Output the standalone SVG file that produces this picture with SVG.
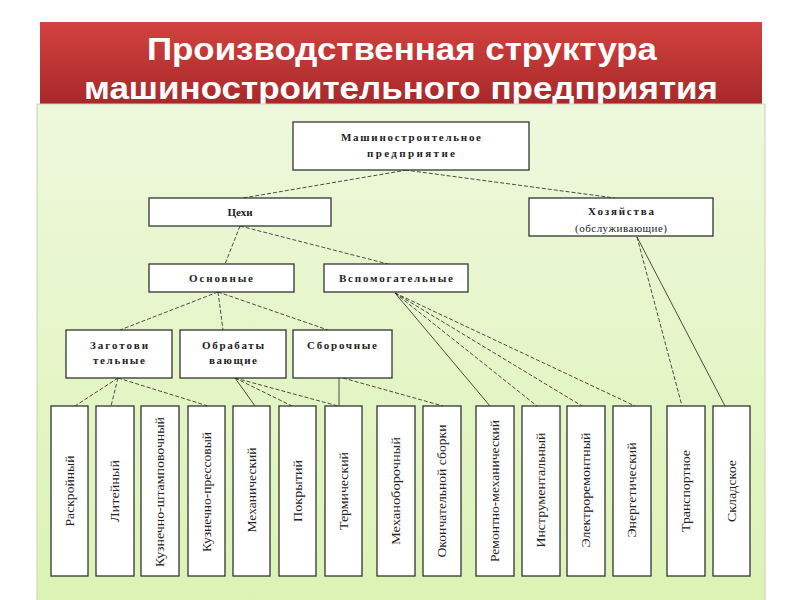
<svg xmlns="http://www.w3.org/2000/svg" width="800" height="600" viewBox="0 0 800 600">
<defs>
<linearGradient id="red" x1="0" y1="0" x2="0" y2="1">
<stop offset="0" stop-color="#d2423f"/>
<stop offset="1" stop-color="#a8282a"/>
</linearGradient>
<linearGradient id="green" x1="0" y1="0" x2="0" y2="1">
<stop offset="0" stop-color="#eef8dc"/>
<stop offset="1" stop-color="#dcf3b4"/>
</linearGradient>
<style>
.box{fill:#fff;stroke:#333;stroke-width:1.3}
.t{font-family:"Liberation Serif","DejaVu Serif",serif;font-weight:bold;font-size:11px;fill:#222;text-anchor:middle}
.n{font-weight:normal}
.v{font-family:"Liberation Serif","DejaVu Serif",serif;font-size:12px;fill:#222;text-anchor:middle}
.d{stroke:#222;stroke-width:0.8;stroke-dasharray:4 2;fill:none}
.s{stroke:#222;stroke-width:0.8;fill:none}
.title{font-family:"Liberation Sans",Arial,sans-serif;font-weight:bold;font-size:32px;fill:#fff;text-anchor:middle}
</style>
</defs>
<rect width="800" height="600" fill="#fff"/>
<g id="banner">
<rect x="40" y="22" width="722" height="82" fill="url(#red)"/>
<text class="title" x="402" y="60" textLength="510" lengthAdjust="spacingAndGlyphs">Производственная структура</text>
<text class="title" x="401" y="99" textLength="634" lengthAdjust="spacingAndGlyphs">машиностроительного предприятия</text>
</g>
<rect x="37" y="104" width="728" height="500" fill="url(#green)" stroke="#c8d2b8" stroke-width="1"/>
<g id="connectors">
<line class="d" x1="407" y1="170" x2="243" y2="198"/>
<line class="d" x1="405" y1="170" x2="615" y2="198"/>
<line class="d" x1="240" y1="226" x2="225" y2="264"/>
<line class="d" x1="240" y1="226" x2="388" y2="264"/>
<line class="d" x1="218" y1="292" x2="120" y2="330"/>
<line class="d" x1="218" y1="292" x2="223" y2="330"/>
<line class="d" x1="218" y1="292" x2="328" y2="330"/>
<line class="d" x1="118" y1="378" x2="75" y2="406"/>
<line class="d" x1="118" y1="378" x2="111" y2="406"/>
<line class="d" x1="118" y1="378" x2="208" y2="406"/>
<line class="s" x1="235" y1="378" x2="255" y2="406"/>
<line class="d" x1="235" y1="378" x2="292" y2="406"/>
<line class="d" x1="235" y1="378" x2="338" y2="406"/>
<line class="s" x1="339" y1="378" x2="339" y2="406"/>
<line class="d" x1="343" y1="378" x2="443" y2="406"/>
<line class="s" x1="395" y1="293" x2="490" y2="406"/>
<line class="d" x1="395" y1="293" x2="537" y2="406"/>
<line class="d" x1="395" y1="293" x2="582" y2="406"/>
<line class="d" x1="395" y1="293" x2="635" y2="406"/>
<line class="d" x1="637" y1="237" x2="682" y2="406"/>
<line class="s" x1="637" y1="237" x2="725" y2="406"/>
</g>
<g id="n-enterprise">
<rect class="box" x="293" y="122" width="236" height="48"/>
<text class="t" x="411" y="141" textLength="140" lengthAdjust="spacing">Машиностроительное</text>
<text class="t" x="411" y="157" textLength="88" lengthAdjust="spacing">предприятие</text>
</g>
<g id="n-cehi">
<rect class="box" x="149" y="198" width="182" height="28"/>
<text class="t" x="240" y="216">Цехи</text>
</g>
<g id="n-hoz">
<rect class="box" x="529" y="198" width="184" height="38"/>
<text class="t" x="621" y="215" textLength="66" lengthAdjust="spacing">Хозяйства</text>
<text class="t n" x="621" y="232" textLength="92" lengthAdjust="spacing">(обслуживающие)</text>
</g>
<g id="n-osn">
<rect class="box" x="149" y="264" width="145" height="28"/>
<text class="t" x="221" y="282" textLength="64" lengthAdjust="spacing">Основные</text>
</g>
<g id="n-vsp">
<rect class="box" x="324" y="264" width="144" height="28"/>
<text class="t" x="396" y="282" textLength="114" lengthAdjust="spacing">Вспомогательные</text>
</g>
<g id="n-zag">
<rect class="box" x="66" y="330" width="106" height="48"/>
<text class="t" x="119" y="349" textLength="58" lengthAdjust="spacing">Заготови</text>
<text class="t" x="119" y="364" textLength="52" lengthAdjust="spacing">тельные</text>
</g>
<g id="n-obr">
<rect class="box" x="180" y="330" width="106" height="48"/>
<text class="t" x="233" y="349" textLength="62" lengthAdjust="spacing">Обрабаты</text>
<text class="t" x="233" y="364" textLength="48" lengthAdjust="spacing">вающие</text>
</g>
<g id="n-sbor">
<rect class="box" x="293" y="330" width="99" height="48"/>
<text class="t" x="342" y="349" textLength="70" lengthAdjust="spacing">Сборочные</text>
</g>
<g id="n-b1"><rect class="box" x="51" y="406" width="37" height="170"/><text class="v" transform="translate(73.5,491) rotate(-90)" textLength="71" lengthAdjust="spacingAndGlyphs">Раскройный</text></g>
<g id="n-b2"><rect class="box" x="96" y="406" width="38" height="170"/><text class="v" transform="translate(119,491) rotate(-90)" textLength="62" lengthAdjust="spacingAndGlyphs">Литейный</text></g>
<g id="n-b3"><rect class="box" x="141" y="406" width="38" height="170"/><text class="v" transform="translate(164,492) rotate(-90)" textLength="150" lengthAdjust="spacingAndGlyphs">Кузнечно-штамповочный</text></g>
<g id="n-b4"><rect class="box" x="188" y="406" width="37" height="170"/><text class="v" transform="translate(210.5,492) rotate(-90)" textLength="120" lengthAdjust="spacingAndGlyphs">Кузнечно-прессовый</text></g>
<g id="n-b5"><rect class="box" x="233" y="406" width="37" height="170"/><text class="v" transform="translate(255.5,490) rotate(-90)" textLength="85" lengthAdjust="spacingAndGlyphs">Механический</text></g>
<g id="n-b6"><rect class="box" x="279" y="406" width="37" height="170"/><text class="v" transform="translate(301.5,491) rotate(-90)" textLength="62" lengthAdjust="spacingAndGlyphs">Покрытий</text></g>
<g id="n-b7"><rect class="box" x="325" y="406" width="37" height="170"/><text class="v" transform="translate(347.5,491) rotate(-90)" textLength="78" lengthAdjust="spacingAndGlyphs">Термический</text></g>
<g id="n-b8"><rect class="box" x="377" y="406" width="38" height="170"/><text class="v" transform="translate(400,491) rotate(-90)" textLength="108" lengthAdjust="spacingAndGlyphs">Механоборочный</text></g>
<g id="n-b9"><rect class="box" x="423" y="406" width="38" height="170"/><text class="v" transform="translate(446,491) rotate(-90)" textLength="133" lengthAdjust="spacingAndGlyphs">Окончательной сборки</text></g>
<g id="n-b10"><rect class="box" x="476" y="406" width="38" height="170"/><text class="v" transform="translate(499,491) rotate(-90)" textLength="142" lengthAdjust="spacingAndGlyphs">Ремонтно-механический</text></g>
<g id="n-b11"><rect class="box" x="522" y="406" width="38" height="170"/><text class="v" transform="translate(545,490) rotate(-90)" textLength="115" lengthAdjust="spacingAndGlyphs">Инструментальный</text></g>
<g id="n-b12"><rect class="box" x="567" y="406" width="38" height="170"/><text class="v" transform="translate(590,490) rotate(-90)" textLength="115" lengthAdjust="spacingAndGlyphs">Электроремонтный</text></g>
<g id="n-b13"><rect class="box" x="613" y="406" width="38" height="170"/><text class="v" transform="translate(636,490) rotate(-90)" textLength="95" lengthAdjust="spacingAndGlyphs">Энергетический</text></g>
<g id="n-b14"><rect class="box" x="667" y="406" width="38" height="170"/><text class="v" transform="translate(690,491) rotate(-90)" textLength="82" lengthAdjust="spacingAndGlyphs">Транспортное</text></g>
<g id="n-b15"><rect class="box" x="713" y="406" width="37" height="170"/><text class="v" transform="translate(735.5,491) rotate(-90)" textLength="62" lengthAdjust="spacingAndGlyphs">Складское</text></g>
</svg>
